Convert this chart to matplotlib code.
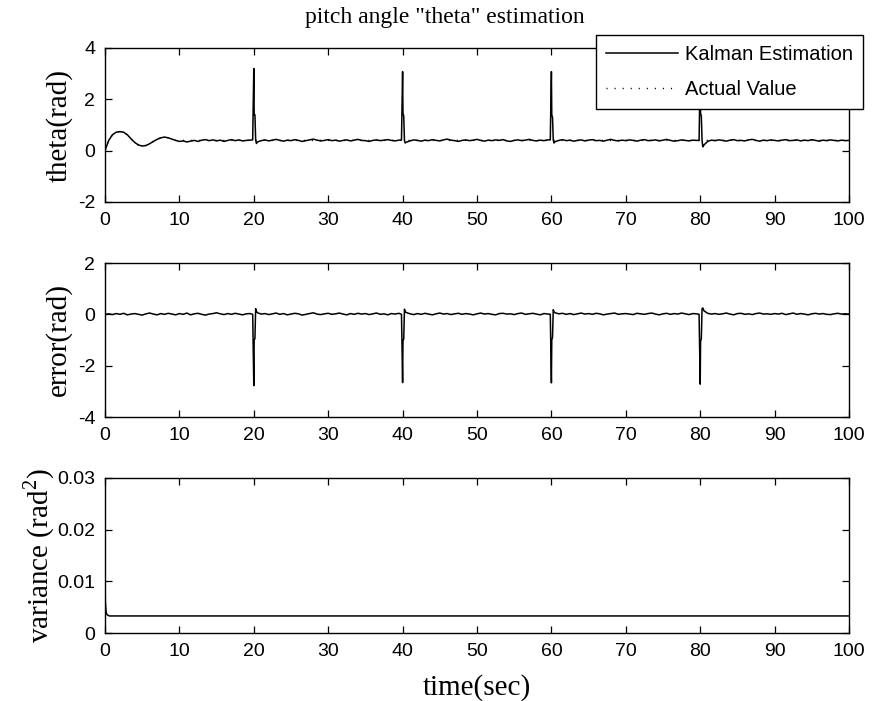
import numpy as np
import matplotlib
matplotlib.use("Agg")
import matplotlib.pyplot as plt

plt.rcParams["axes.unicode_minus"] = False
plt.rcParams["mathtext.fontset"] = "custom"
plt.rcParams["mathtext.rm"] = "Liberation Serif"

# ---- data -----------------------------------------------------------------
t_grid = np.arange(0, 100.01, 0.5)

theta_est_base = [
    0.00, 0.40, 0.62, 0.72, 0.74, 0.72, 0.62, 0.46, 0.32, 0.22, 0.18, 0.20, 0.27, 0.36, 0.44, 0.50, 0.53, 0.50, 0.45, 0.40,
    0.36, 0.38, 0.34, 0.37, 0.40, 0.36, 0.41, 0.43, 0.39, 0.42, 0.38, 0.41, 0.36, 0.40, 0.43, 0.39, 0.42, 0.38, 0.40, 0.41,
    0.30, 0.34, 0.39, 0.42, 0.38, 0.41, 0.44, 0.40, 0.37, 0.41, 0.39, 0.43, 0.40, 0.36, 0.39, 0.42, 0.45, 0.41, 0.38, 0.40,
    0.43, 0.39, 0.41, 0.37, 0.40, 0.42, 0.38, 0.41, 0.44, 0.40, 0.39, 0.36, 0.40, 0.42, 0.39, 0.41, 0.43, 0.40, 0.38, 0.41,
    0.40, 0.33, 0.38, 0.42, 0.40, 0.37, 0.41, 0.39, 0.43, 0.40, 0.38, 0.42, 0.45, 0.41, 0.39, 0.36, 0.40, 0.42, 0.39, 0.41,
    0.44, 0.40, 0.37, 0.41, 0.39, 0.42, 0.40, 0.43, 0.38, 0.36, 0.40, 0.42, 0.39, 0.41, 0.44, 0.40, 0.38, 0.41, 0.39, 0.42,
    0.40, 0.35, 0.40, 0.43, 0.39, 0.41, 0.37, 0.40, 0.42, 0.38, 0.41, 0.43, 0.39, 0.40, 0.37, 0.41, 0.44, 0.40, 0.38, 0.41,
    0.39, 0.42, 0.40, 0.37, 0.41, 0.43, 0.39, 0.40, 0.42, 0.38, 0.41, 0.44, 0.40, 0.37, 0.39, 0.42, 0.40, 0.38, 0.41, 0.40,
    0.40, 0.22, 0.36, 0.41, 0.39, 0.42, 0.40, 0.37, 0.41, 0.43, 0.39, 0.40, 0.38, 0.42, 0.44, 0.40, 0.37, 0.41, 0.39, 0.42,
    0.40, 0.38, 0.41, 0.43, 0.39, 0.40, 0.42, 0.38, 0.41, 0.39, 0.43, 0.40, 0.37, 0.41, 0.39, 0.42, 0.40, 0.38, 0.41, 0.39,
    0.40,
]

error_base = [
    0.00, 0.02, -0.01, 0.03, 0.00, 0.04, -0.02, 0.01, 0.03, 0.00, -0.03, 0.02, 0.05, 0.01, -0.02, 0.03, 0.00, 0.04, 0.01, -0.02,
    0.03, 0.00, 0.05, -0.02, 0.02, 0.04, 0.00, -0.03, 0.01, 0.03, 0.06, 0.02, -0.01, 0.03, 0.00, 0.04, 0.01, -0.02, 0.02, 0.03,
    0.10, 0.06, 0.01, 0.03, -0.01, 0.02, 0.05, 0.00, 0.03, -0.02, 0.01, 0.04, 0.02, -0.03, 0.00, 0.03, 0.06, 0.01, -0.01, 0.02,
    0.04, 0.00, 0.02, 0.05, 0.01, -0.02, 0.03, 0.00, 0.04, 0.01, 0.03, -0.01, 0.02, 0.05, 0.00, 0.02, -0.02, 0.03, 0.01, 0.04,
    0.10, 0.07, 0.02, -0.01, 0.03, 0.00, 0.04, 0.01, -0.02, 0.02, 0.05, 0.01, 0.03, -0.01, 0.02, 0.04, 0.00, 0.03, 0.01, -0.02,
    0.02, 0.05, 0.01, 0.03, 0.00, -0.02, 0.03, 0.04, 0.01, 0.02, -0.01, 0.03, 0.05, 0.00, 0.02, 0.04, 0.01, -0.02, 0.03, 0.01,
    0.10, 0.06, 0.02, 0.04, 0.00, 0.03, -0.01, 0.02, 0.05, 0.01, 0.03, 0.00, 0.04, 0.02, -0.02, 0.01, 0.03, 0.05, 0.00, 0.02,
    0.03, 0.01, -0.01, 0.04, 0.02, 0.00, 0.03, 0.05, 0.01, -0.02, 0.02, 0.04, 0.00, 0.03, 0.01, 0.05, 0.02, -0.01, 0.03, 0.02,
    0.10, 0.14, 0.04, 0.01, 0.03, 0.00, 0.02, 0.05, 0.01, -0.02, 0.03, 0.04, 0.00, 0.02, -0.01, 0.03, 0.05, 0.01, 0.02, 0.00,
    0.03, 0.01, 0.04, -0.01, 0.02, 0.05, 0.00, 0.03, 0.01, -0.02, 0.02, 0.04, 0.01, 0.03, 0.00, -0.01, 0.02, 0.04, 0.01, 0.02,
    0.01,
]

# Reference (actual) pitch angle: initial transient, then steady value
actual_t = [0.0, 0.5, 1.0, 1.5, 2.0, 2.5, 3.0, 3.5, 4.0, 4.5, 5.0, 5.5, 6.0, 6.5, 7.0, 7.5, 8.0, 8.5, 9.0, 9.5, 10.0, 100.0]
actual_v = [0.00, 0.40, 0.62, 0.72, 0.74, 0.72, 0.62, 0.46, 0.32, 0.22, 0.18, 0.20, 0.27, 0.36, 0.44, 0.50, 0.53, 0.50, 0.45, 0.40, 0.40, 0.40]

# Disturbance instants and the sample offsets around each of them
spike_centers = [20.0, 40.0, 60.0, 80.0]
spike_offsets = [-0.15, -0.08, 0.0, 0.05, 0.15, 0.25, 0.35]
theta_spikes = [
    [0.42, 1.80, 3.20, 1.40, 1.40, 0.42, 0.28],
    [0.42, 1.66, 3.08, 1.45, 1.35, 0.40, 0.30],
    [0.42, 1.70, 3.08, 1.40, 1.30, 0.42, 0.30],
    [0.40, 1.70, 2.90, 1.45, 1.35, 0.40, 0.15],
]
error_spikes = [
    [0.00, -1.40, -2.78, -1.00, -0.95, 0.22, 0.12],
    [0.00, -1.30, -2.66, -1.05, -0.95, 0.20, 0.10],
    [0.00, -1.30, -2.67, -1.00, -0.90, 0.18, 0.10],
    [0.00, -1.30, -2.72, -1.05, -0.95, 0.22, 0.25],
]

var_t = [0.0, 0.05, 0.15, 0.3, 0.6, 100.0]
var_v = [0.0103, 0.0060, 0.0040, 0.0035, 0.0033, 0.0033]

x_ticks = [0, 10, 20, 30, 40, 50, 60, 70, 80, 90, 100]
theta_ticks = [-2, 0, 2, 4]
error_ticks = [-4, -2, 0, 2]
var_ticks = [0, 0.01, 0.02, 0.03]
var_tick_labels = ["0", "0.01", "0.02", "0.03"]


def merge_with_spikes(base, spikes):
    """Combine the regular samples with the finer samples around each spike."""
    keep = np.all(np.abs(t_grid[:, None] - np.array(spike_centers)[None, :]) > 0.45, axis=1)
    t = list(t_grid[keep])
    v = list(np.array(base)[keep])
    for c, vals in zip(spike_centers, spikes):
        t += [c + o for o in spike_offsets]
        v += vals
    order = np.argsort(t)
    return np.array(t)[order], np.array(v)[order]


theta_t, theta_v = merge_with_spikes(theta_est_base, theta_spikes)
err_t, err_v = merge_with_spikes(error_base, error_spikes)

# ---- figure ---------------------------------------------------------------
W, H = 886, 701
fig = plt.figure(figsize=(W / 100, H / 100), dpi=100)

sans = ["Liberation Sans", "DejaVu Sans"]
serif = ["Liberation Serif", "DejaVu Serif"]
tick_fs = 14
label_fs = 21

left, right = 105, 849
boxes = [(48, 202), (263, 417), (478, 633)]
axes = []
for top, bot in boxes:
    ax = fig.add_axes([left / W, 1 - bot / H, (right - left) / W, (bot - top) / H])
    axes.append(ax)

for ax in axes:
    ax.set_xlim(0, 100)
    ax.set_xticks(x_ticks)
    ax.tick_params(direction="in", top=True, right=True, length=5, width=0.9,
                   labelsize=tick_fs, pad=7)
    for sp in ax.spines.values():
        sp.set_linewidth(1.0)
        sp.set_color("black")

ax1, ax2, ax3 = axes

l_est, = ax1.plot(theta_t, theta_v, color="black", lw=1.1, label="Kalman Estimation", zorder=3)
l_act, = ax1.plot(actual_t, actual_v, color="black", lw=1.0, linestyle=(0, (0.8, 5)),
                  label="Actual Value", zorder=2)
ax1.set_ylim(-2, 4)
ax1.set_yticks(theta_ticks)
ax1.set_ylabel("theta(rad)", fontfamily=serif, fontsize=label_fs, labelpad=4)

ax2.plot(err_t, err_v, color="black", lw=1.1)
ax2.set_ylim(-4, 2)
ax2.set_yticks(error_ticks)
ax2.set_ylabel("error(rad)", fontfamily=serif, fontsize=label_fs, labelpad=4)

ax3.plot(var_t, var_v, color="black", lw=1.1)
ax3.set_ylim(0, 0.03)
ax3.set_yticks(var_ticks)
ax3.set_yticklabels(var_tick_labels)
ax3.set_ylabel(r"variance (rad$^2$)", fontfamily=serif, fontsize=label_fs, labelpad=0)
ax3.set_xlabel("time(sec)", fontfamily=serif, fontsize=label_fs, labelpad=10)

for ax in axes:
    for lab in ax.get_xticklabels() + ax.get_yticklabels():
        lab.set_fontfamily(sans)

fig.text(445 / W, 1 - 18 / H, 'pitch angle "theta" estimation', ha="center", va="center",
         fontfamily=serif, fontsize=17)

leg = ax1.legend(handles=[l_est, l_act], loc="upper right",
                 bbox_to_anchor=(863 / W, 1 - 35 / H), bbox_transform=fig.transFigure,
                 borderaxespad=0, fancybox=False, framealpha=1, edgecolor="black",
                 handlelength=3.55, handletextpad=0.35, borderpad=0.5, labelspacing=0.78,
                 prop={"family": sans, "size": 14.5})
leg.get_frame().set_linewidth(1.0)
leg.set_zorder(10)

fig.savefig("out.png", dpi=100)
